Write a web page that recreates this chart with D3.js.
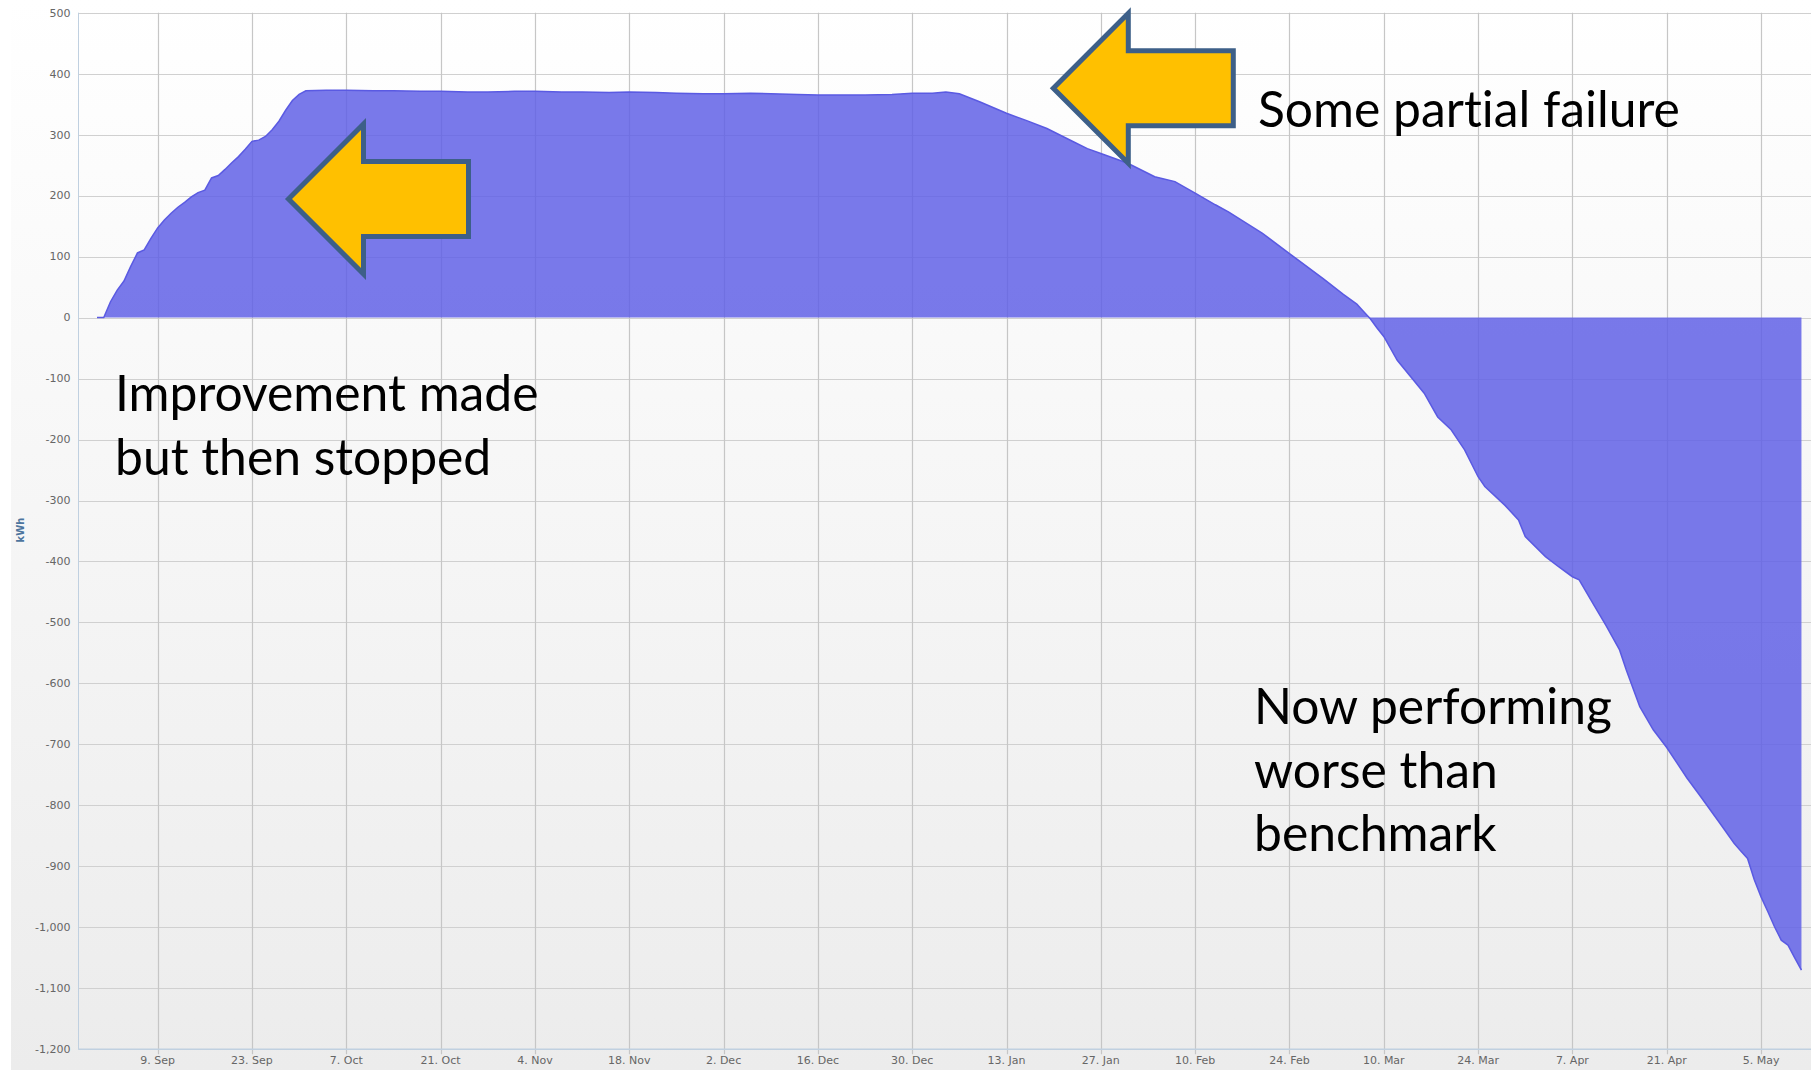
<!DOCTYPE html>
<html><head><meta charset="utf-8">
<script src="https://cdn.jsdelivr.net/npm/d3@7"></script>
<style>body{margin:0;background:#fff;} svg{display:block;}</style>
</head><body>
<svg id="chart" width="1811" height="1070"></svg>
<script>
// ---------- DATA ----------
const dates = [
"2013-08-31","2013-09-01","2013-09-02","2013-09-03","2013-09-04","2013-09-05","2013-09-06","2013-09-07","2013-09-08","2013-09-09",
"2013-09-10","2013-09-11","2013-09-12","2013-09-13","2013-09-14","2013-09-15","2013-09-16","2013-09-17","2013-09-18","2013-09-19",
"2013-09-20","2013-09-21","2013-09-22","2013-09-23","2013-09-24","2013-09-25","2013-09-26","2013-09-27","2013-09-28","2013-09-29",
"2013-09-30","2013-10-01","2013-10-04","2013-10-07","2013-10-11","2013-10-14","2013-10-18","2013-10-21","2013-10-25","2013-10-28",
"2013-11-01","2013-11-04","2013-11-08","2013-11-11","2013-11-15","2013-11-18","2013-11-22","2013-11-25","2013-11-29","2013-12-02",
"2013-12-06","2013-12-09","2013-12-13","2013-12-16","2013-12-20","2013-12-23","2013-12-27","2013-12-30","2014-01-02","2014-01-04",
"2014-01-06","2014-01-09","2014-01-13","2014-01-16","2014-01-19","2014-01-23","2014-01-25","2014-01-27","2014-01-31","2014-02-04",
"2014-02-07","2014-02-10","2014-02-13","2014-02-15","2014-02-18","2014-02-20","2014-02-24","2014-03-01","2014-03-04","2014-03-06",
"2014-03-07","2014-03-08","2014-03-09","2014-03-10","2014-03-12","2014-03-14","2014-03-16","2014-03-18","2014-03-20","2014-03-22",
"2014-03-24","2014-03-25","2014-03-28","2014-03-30","2014-03-31","2014-04-03","2014-04-05","2014-04-07","2014-04-08","2014-04-10",
"2014-04-12","2014-04-14","2014-04-15","2014-04-17","2014-04-19","2014-04-21","2014-04-24","2014-04-26","2014-04-29","2014-05-01",
"2014-05-02","2014-05-03","2014-05-04","2014-05-05","2014-05-06","2014-05-07","2014-05-08","2014-05-09","2014-05-10","2014-05-11"
];
const values = [
0,0,26,45,60,84,106,111,130,147,
160,171,181,189,198,205,209,229,233,243,
254,264,276,289,291,297,308,322,340,356,
366,372,373,373,372,372,371,371,370,370,
371,371,370,370,369,370,369,368,367,367,
368,367,366,365,365,365,366,368,368,370,
367,354,335,323,310,288,277,269,253,231,
223,204,185,173,152,138,105,64,38,22,
10,-2,-17,-31,-70,-97,-124,-163,-184,-217,
-261,-277,-308,-332,-359,-392,-409,-425,-430,-468,
-505,-545,-578,-638,-676,-705,-755,-785,-831,-862,
-875,-887,-922,-950,-974,-999,-1021,-1029,-1050,-1070
];
const xTickDates = ["2013-09-09","2013-09-23","2013-10-07","2013-10-21","2013-11-04","2013-11-18","2013-12-02","2013-12-16","2013-12-30",
"2014-01-13","2014-01-27","2014-02-10","2014-02-24","2014-03-10","2014-03-24","2014-04-07","2014-04-21","2014-05-05"];
const yTickValues = [500,400,300,200,100,0,-100,-200,-300,-400,-500,-600,-700,-800,-900,-1000,-1100,-1200];
const yAxisTitle = "kWh";
const annotationTexts = [
  {lines:["Improvement made","but then stopped"], key:"a"},
  {lines:["Some partial failure"], key:"b"},
  {lines:["Now performing","worse than","benchmark"], key:"c"}
];

// ---------- LAYOUT ----------
const W = 1811, H = 1070;
const plot = {left:78.5, right:1811, top:12.7, bottom:1049.3};
const parse = d3.timeParse("%Y-%m-%d");
const domainStart = new Date(2013,7,28,6), domainEnd = new Date(2014,4,12,10);
const textLayout = {
  a:{x:115, y:411, dy:63.5},
  b:{x:1258, y:127, dy:63.5},
  c:{x:1254, y:724, dy:63.5}
};
const arrowTips = [{x:288.5,y:199},{x:1053.3,y:88.3}];

const svg = d3.select("#chart");
const defs = svg.append("defs");
const grad = defs.append("linearGradient").attr("id","bg").attr("x1",0).attr("y1",0).attr("x2",0).attr("y2",1);
grad.append("stop").attr("offset","0%").attr("stop-color","#ffffff");
grad.append("stop").attr("offset","100%").attr("stop-color","#ececec");
svg.append("rect").attr("x",0).attr("y",0).attr("width",W).attr("height",H).attr("fill","#fff");
svg.append("rect").attr("x",11).attr("y",0).attr("width",W-11).attr("height",H).attr("fill","url(#bg)");

const x = d3.scaleTime().domain([domainStart, domainEnd]).range([plot.left, plot.right]);
const y = d3.scaleLinear().domain([-1200, 500]).range([plot.bottom, plot.top]);

const data = dates.map((d,i)=>({date:parse(d), value:values[i]}));
const ticks = xTickDates.map(parse);

// grid
const gx = svg.append("g");
gx.selectAll("line.h").data(yTickValues).join("line")
  .attr("x1",plot.left).attr("x2",plot.right)
  .attr("y1",d=>Math.round(y(d))+0.5).attr("y2",d=>Math.round(y(d))+0.5)
  .attr("stroke","#d0d0d0").attr("stroke-width",1.2);
gx.selectAll("line.v").data(ticks).join("line")
  .attr("x1",d=>Math.round(x(d))+0.5).attr("x2",d=>Math.round(x(d))+0.5)
  .attr("y1",plot.top).attr("y2",plot.bottom+5)
  .attr("stroke","#c6c6c6").attr("stroke-width",1.2);

// axis lines
svg.append("line").attr("x1",plot.left).attr("x2",plot.left).attr("y1",plot.top).attr("y2",plot.bottom)
  .attr("stroke","#c0d0e0").attr("stroke-width",1);
svg.append("line").attr("x1",plot.left).attr("x2",plot.right).attr("y1",plot.bottom).attr("y2",plot.bottom)
  .attr("stroke","#c0d0e0").attr("stroke-width",1.5);

// area
const area = d3.area().x(d=>x(d.date)).y0(y(0)).y1(d=>y(d.value)).curve(d3.curveLinear);
const line = d3.line().x(d=>x(d.date)).y(d=>y(d.value)).curve(d3.curveLinear);
svg.append("path").datum(data).attr("d",area).attr("fill","#5f5fe6").attr("fill-opacity",0.84);
svg.append("path").datum(data).attr("d",line).attr("fill","none").attr("stroke","#5a5ae2").attr("stroke-width",1.5);

// y axis labels
const loc = d3.formatLocale({decimal:".",thousands:",",grouping:[3],currency:["",""],minus:"-"});
const fmt = loc.format(",");
svg.append("g").selectAll("text").data(yTickValues).join("text")
  .attr("x",70.5).attr("y",d=>y(d)).attr("dy","0.35em").attr("text-anchor","end")
  .attr("font-family","DejaVu Sans, Verdana, sans-serif").attr("font-size",11).attr("fill","#666")
  .text(d=>fmt(d));
// x axis labels
const xf = d3.timeFormat("%-d. %b");
svg.append("g").selectAll("text").data(ticks).join("text")
  .attr("x",d=>x(d)).attr("y",1064).attr("text-anchor","middle")
  .attr("font-family","DejaVu Sans, Verdana, sans-serif").attr("font-size",11).attr("fill","#666")
  .text(d=>xf(d));
// y title
svg.append("text").attr("transform","translate(24,530) rotate(-90)").attr("text-anchor","middle")
  .attr("font-family","DejaVu Sans, Verdana, sans-serif").attr("font-size",10).attr("font-weight","bold")
  .attr("fill","#4d759e").text(yAxisTitle);

// arrows
const arrowShape = [[0,0],[75,-75],[75,-37.5],[180,-37.5],[180,37.5],[75,37.5],[75,75]];
svg.append("g").selectAll("path").data(arrowTips).join("path")
  .attr("d",t=>"M"+arrowShape.map(p=>[(t.x+p[0]).toFixed(1),(t.y+p[1]).toFixed(1)].join(",")).join("L")+"Z")
  .attr("fill","#ffc000").attr("stroke","#3d5f88").attr("stroke-width",5).attr("stroke-linejoin","miter");

// annotation texts
annotationTexts.forEach(a=>{
  const L = textLayout[a.key];
  const t = svg.append("text").attr("font-family","Lato, 'Open Sans', sans-serif").attr("font-size",49.8)
    .attr("fill","#000").style("font-variant-ligatures","none").style("font-feature-settings","'liga' 0");
  a.lines.forEach((s,i)=>t.append("tspan").attr("x",L.x).attr("y",L.y+i*L.dy).text(s));
});
</script>
</body></html>
